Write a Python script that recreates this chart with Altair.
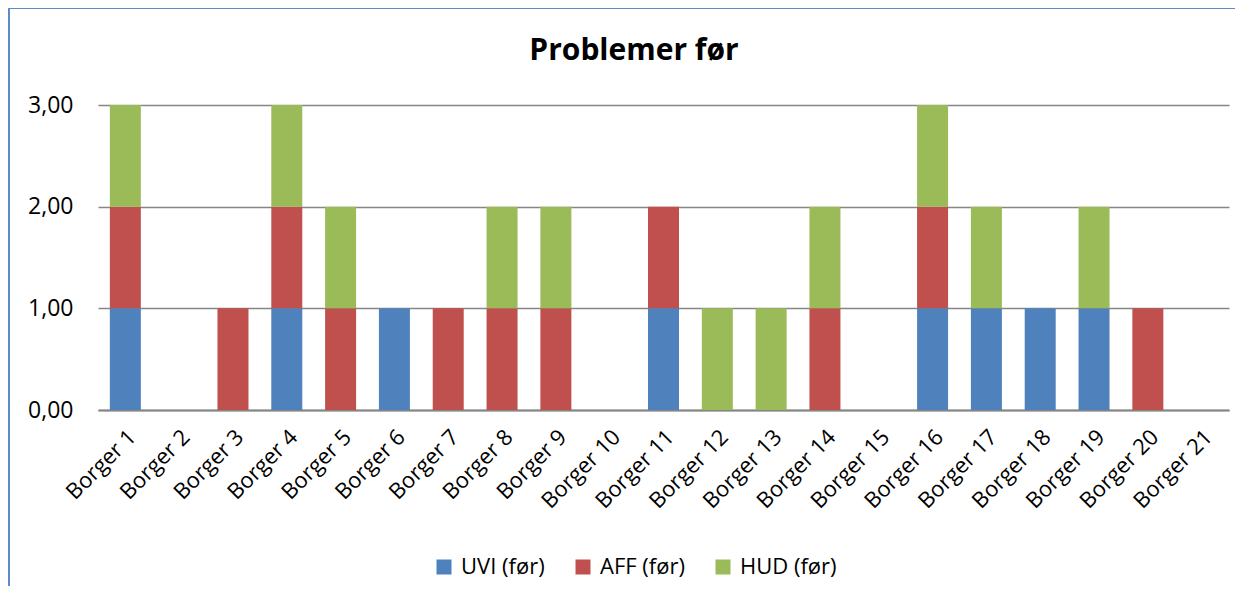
import altair as alt
import pandas as pd

categories = [f"Borger {i}" for i in range(1, 22)]
series = ["UVI (før)", "AFF (før)", "HUD (før)"]
uvi = [1, 0, 0, 1, 0, 1, 0, 0, 0, 0, 1, 0, 0, 0, 0, 1, 1, 1, 1, 0, 0]
aff = [1, 0, 1, 1, 1, 0, 1, 1, 1, 0, 1, 0, 0, 1, 0, 1, 0, 0, 0, 1, 0]
hud = [1, 0, 0, 1, 1, 0, 0, 1, 1, 0, 0, 1, 1, 1, 0, 1, 1, 0, 1, 0, 0]
colors = ["#4F81BD", "#C0504D", "#9BBB59"]
y_ticks = [0, 1, 2, 3]
title_text = "Problemer før"

rows = []
for s_i, (name, vals) in enumerate(zip(series, [uvi, aff, hud])):
    for c, v in zip(categories, vals):
        rows.append({"Borger": c, "Serie": name, "Verdi": v, "idx": s_i})
df = pd.DataFrame(rows)

FONT = "Open Sans"
W, H = 1131, 305

bars = alt.Chart(df).mark_bar().encode(
    x=alt.X("Borger:N", sort=categories,
            scale=alt.Scale(paddingInner=0.424, paddingOuter=0.22),
            axis=alt.Axis(title=None, labelAngle=-45, ticks=False, labelFontSize=22,
                          labelFont=FONT, labelColor="#000000", labelPadding=16,
                          domainColor="#868686", domainWidth=2, grid=False)),
    y=alt.Y("Verdi:Q", stack="zero",
            scale=alt.Scale(domain=[0, 3], nice=False),
            axis=alt.Axis(title=None, values=y_ticks, domain=False, ticks=False,
                          labelExpr="replace(format(datum.value, '.2f'), '.', ',')",
                          labelFontSize=23, labelFont=FONT, labelColor="#000000",
                          labelPadding=25, gridColor="#868686", gridWidth=1.5)),
    color=alt.Color("Serie:N", sort=series,
                    scale=alt.Scale(domain=series, range=colors),
                    legend=alt.Legend(title=None, orient="none", direction="horizontal",
                                      legendX=335, legendY=451, symbolType="square",
                                      symbolSize=225, symbolStrokeWidth=0,
                                      labelFontSize=22, labelFont=FONT, labelColor="#000000",
                                      columnPadding=27, labelOffset=6, padding=0)),
    order=alt.Order("idx:Q"),
)

frame = alt.Chart(pd.DataFrame({"a": [0]})).mark_rect(
    fill=None, stroke="#5B8BC8", strokeWidth=2
).encode(
    x=alt.value(-89), x2=alt.value(1300), y=alt.value(-97), y2=alt.value(700)
)

title = alt.Chart(pd.DataFrame({"t": [title_text]})).mark_text(
    font=FONT, fontSize=30, fontWeight="bold", color="#000000",
    align="center", baseline="middle"
).encode(text="t:N", x=alt.value(536), y=alt.value(-54))

chart = alt.layer(frame, bars, title).properties(
    width=W, height=H,
    autosize=alt.AutoSizeParams(type="none"),
    padding={"left": 90, "top": 97, "right": 6, "bottom": 176},
).configure_view(stroke=None)

chart.save("out.html", embed_options={"renderer": "svg", "actions": False})
